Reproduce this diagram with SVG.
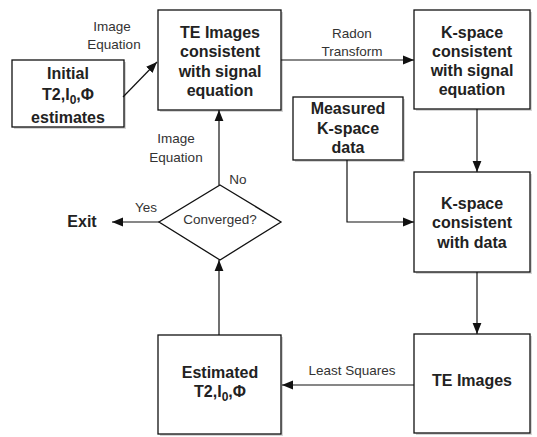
<svg xmlns="http://www.w3.org/2000/svg" width="537" height="437" viewBox="0 0 537 437">
<defs>
<marker id="ah" viewBox="0 0 10 10" refX="10" refY="5" markerWidth="11" markerHeight="11" markerUnits="userSpaceOnUse" orient="auto">
<path d="M0,1 L10,5 L0,9 z" fill="#111"/>
</marker>
</defs>
<style>
.box{fill:#fff;stroke:#111;stroke-width:1.3}
.sh{fill:#bbb;opacity:0.6}
.t{font-family:"Liberation Sans",Arial,sans-serif;font-weight:bold;font-size:16px;fill:#222;text-anchor:middle}
.l{font-family:"Liberation Sans",Arial,sans-serif;font-size:13.5px;fill:#333;text-anchor:middle}
.c{fill:none;stroke:#111;stroke-width:1.2}
</style>
<rect width="537" height="437" fill="#fff"/>
<g id="initial">
<rect class="sh" x="14" y="62" width="112" height="67"/>
<rect class="box" x="12" y="60" width="112" height="67"/>
<text class="t" x="68" y="79">Initial</text>
<text class="t" x="68" y="100">T2,I<tspan font-size="12" dy="4">0</tspan><tspan dy="-4">,Φ</tspan></text>
<text class="t" x="68" y="123">estimates</text>
</g>
<g id="te1">
<rect class="sh" x="160" y="12" width="123" height="100"/>
<rect class="box" x="158" y="10" width="123" height="100"/>
<text class="t" x="220" y="38">TE Images</text>
<text class="t" x="220" y="57">consistent</text>
<text class="t" x="220" y="77">with signal</text>
<text class="t" x="220" y="96">equation</text>
</g>
<g id="ks1">
<rect class="sh" x="416" y="12" width="116" height="99"/>
<rect class="box" x="414" y="10" width="116" height="99"/>
<text class="t" x="472" y="38">K-space</text>
<text class="t" x="472" y="57">consistent</text>
<text class="t" x="472" y="76">with signal</text>
<text class="t" x="472" y="95">equation</text>
</g>
<g id="measured">
<rect class="sh" x="295" y="99" width="110" height="63"/>
<rect class="box" x="293" y="97" width="110" height="63"/>
<text class="t" x="348" y="114">Measured</text>
<text class="t" x="348" y="134">K-space</text>
<text class="t" x="348" y="153">data</text>
</g>
<g id="ks2">
<rect class="sh" x="416" y="174" width="116" height="100"/>
<rect class="box" x="414" y="172" width="116" height="100"/>
<text class="t" x="472" y="209">K-space</text>
<text class="t" x="472" y="228">consistent</text>
<text class="t" x="472" y="248">with data</text>
</g>
<g id="te2">
<rect class="sh" x="416" y="336" width="116" height="99"/>
<rect class="box" x="414" y="334" width="116" height="99"/>
<text class="t" x="472" y="386">TE Images</text>
</g>
<g id="estimated">
<rect class="sh" x="160" y="337" width="123" height="99"/>
<rect class="box" x="158" y="335" width="123" height="99"/>
<text class="t" x="220" y="378">Estimated</text>
<text class="t" x="220" y="397">T2,I<tspan font-size="12" dy="4">0</tspan><tspan dy="-4">,Φ</tspan></text>
</g>
<g id="converged">
<polygon class="box" points="220,185 281,222 220,260 159,222"/>
<text class="l" x="220" y="224">Converged?</text>
</g>
<g id="exit">
<text class="t" x="82" y="227">Exit</text>
</g>
<g id="connectors">
<line class="c" x1="123" y1="97" x2="157" y2="62" marker-end="url(#ah)"/>
<line class="c" x1="281" y1="60" x2="414" y2="60" marker-end="url(#ah)"/>
<line class="c" x1="477" y1="109" x2="477" y2="172" marker-end="url(#ah)"/>
<polyline class="c" points="347,160 347,222 414,222" marker-end="url(#ah)"/>
<line class="c" x1="477" y1="272" x2="477" y2="334" marker-end="url(#ah)"/>
<line class="c" x1="414" y1="385" x2="282" y2="385" marker-end="url(#ah)"/>
<line class="c" x1="219" y1="335" x2="219" y2="260" marker-end="url(#ah)"/>
<line class="c" x1="219" y1="185" x2="219" y2="110" marker-end="url(#ah)"/>
<line class="c" x1="159" y1="222" x2="112" y2="222" marker-end="url(#ah)"/>
<text class="l" x="112" y="31">Image</text>
<text class="l" x="114" y="49">Equation</text>
<text class="l" x="352" y="38">Radon</text>
<text class="l" x="352" y="56">Transform</text>
<text class="l" x="176" y="143">Image</text>
<text class="l" x="176" y="162">Equation</text>
<text class="l" x="238" y="184">No</text>
<text class="l" x="146" y="212">Yes</text>
<text class="l" x="352" y="375">Least Squares</text>
</g>
</svg>
